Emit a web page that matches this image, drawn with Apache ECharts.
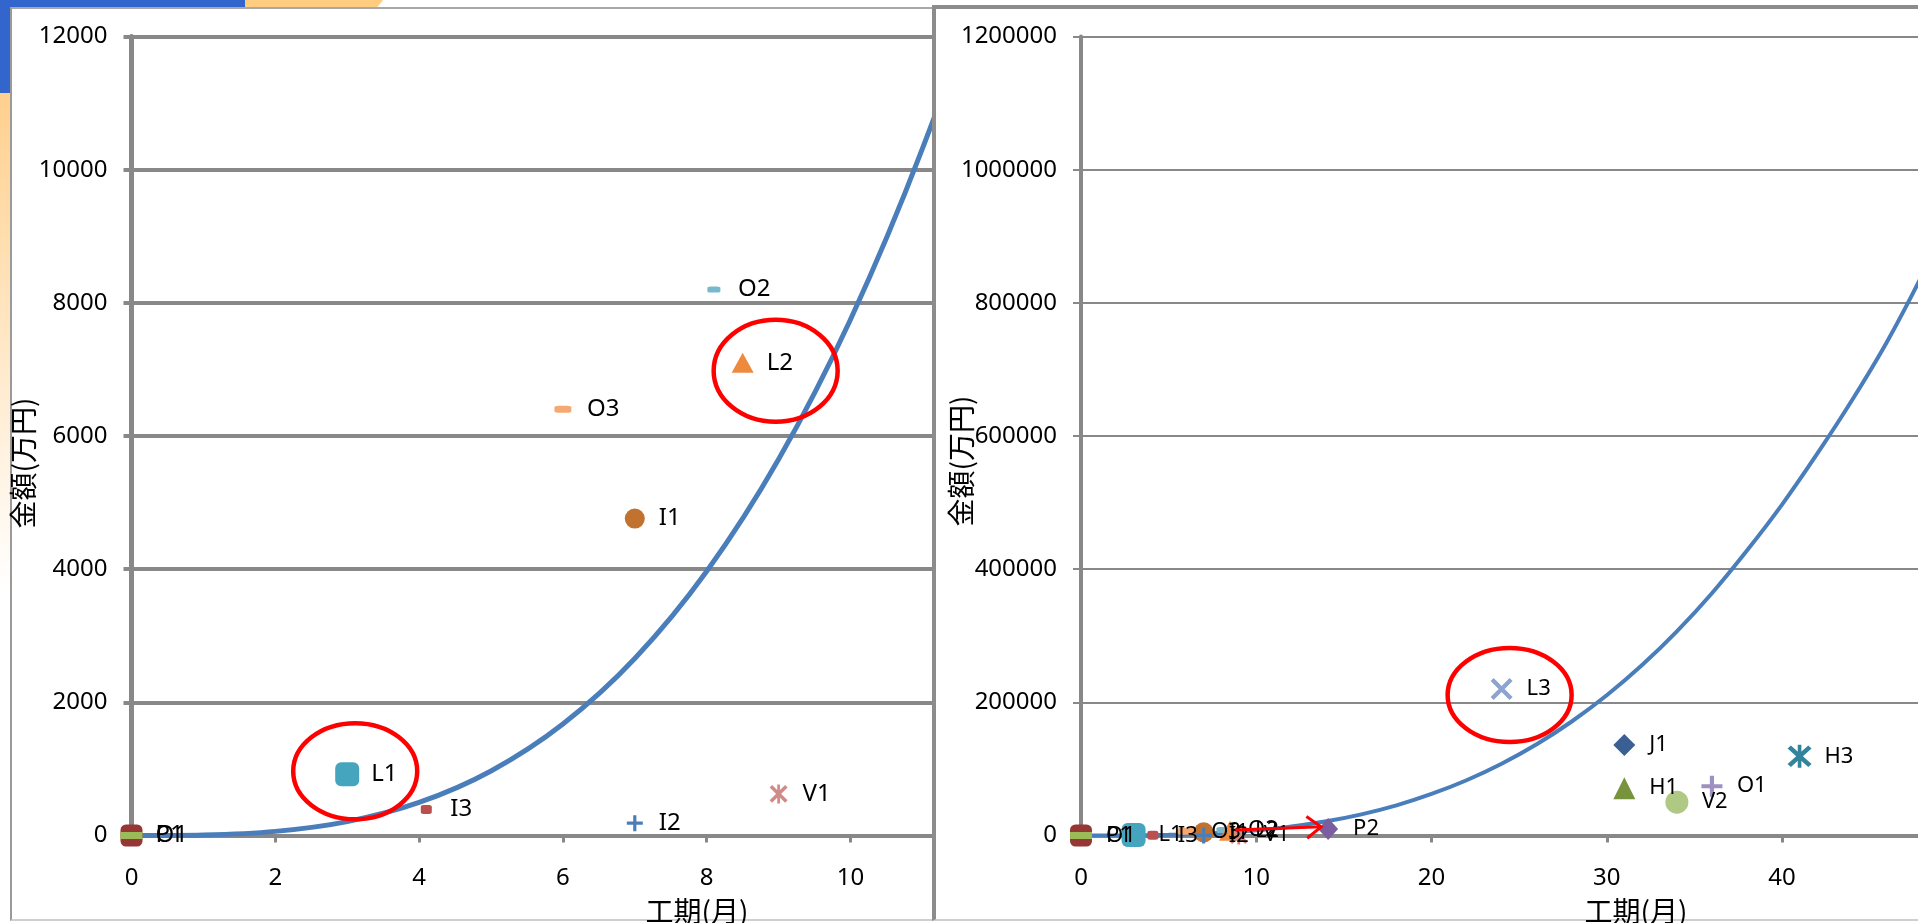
<!DOCTYPE html>
<html>
<head>
<meta charset="utf-8">
<script src="https://cdn.jsdelivr.net/npm/echarts@6/dist/echarts.min.js"></script>
<style>
html,body{margin:0;padding:0;width:1918px;height:923px;overflow:hidden;background:#fff;}
.abs{position:absolute;}
#decoBlueTop{left:0;top:0;width:245px;height:7px;background:#3366CC;}
#decoOrangeTop{left:245px;top:0;width:138px;height:7px;background:#FFCC80;clip-path:polygon(0 0,100% 0,96% 100%,0 100%);}
#decoBlueSide{left:0;top:0;width:10px;height:93px;background:#3366CC;}
#decoOrangeSide{left:0;top:93px;width:10px;height:830px;background:linear-gradient(#FFD08E,#FFFFFF 60%);}
#leftFrame{left:10px;top:7px;width:1000px;height:914px;border-left:2px solid #9a9a9a;border-top:2px solid #a8a8a8;border-bottom:2px solid #cfcfcf;box-sizing:border-box;background:#fff;}
#leftChart{left:0;top:0;width:1000px;height:923px;}
#rightFrame{left:932px;top:5px;width:1100px;height:916px;border-left:4px solid #8c8c8c;border-top:4px solid #8c8c8c;border-bottom:2px solid #cfcfcf;box-sizing:border-box;background:#fff;}
#rightChart{left:936px;top:0;width:1100px;height:923px;}
</style>
</head>
<body>
<div id="decoBlueTop" class="abs"></div>
<div id="decoOrangeTop" class="abs"></div>
<div id="decoBlueSide" class="abs"></div>
<div id="decoOrangeSide" class="abs"></div>
<div id="leftFrame" class="abs"></div>
<div id="leftChart" class="abs"></div>
<div id="rightFrame" class="abs"></div>
<div id="rightChart" class="abs"></div>
<script>
// ---------------- DATA ----------------
const pointLabels  = ['P1','O1','L1','I3','O3','I1','I2','O2','L2','V1','P2','L3','J1','H1','V2','O1','H3'];
const pointMonths  = [0, 0, 3, 4.1, 6, 7, 7, 8.1, 8.5, 9, 14.1, 24, 31, 31, 34, 36, 41];
const pointAmounts = [0, 0, 920, 390, 6400, 4760, 185, 8200, 7100, 625, 9800, 220000, 136000, 71000, 50000, 74000, 119000];

// trend curve
const trendMonths  = [0, 1, 2, 3, 4, 5, 6, 7, 8, 9, 10, 11, 12, 14, 16, 18, 20, 22, 24, 26, 28, 30, 32, 34, 36, 38, 40, 42, 44, 46, 48, 50];
const trendAmounts = [0, 8, 62, 209, 496, 969, 1674, 2658, 3968, 5650, 7750, 10315, 13392, 21300, 31800, 45300, 62400, 83000, 107800, 137000, 171200, 210600, 255600, 306600, 363900, 428000, 497000, 573000, 654000, 742000, 842000, 952000];

const leftXTicks  = [0, 12, 2];        // min, max, interval
const leftYTicks  = [0, 12000, 2000];
const rightXTicks = [0, 50, 10];
const rightYTicks = [0, 1200000, 200000];

const circledLeft  = ['L1', 'L2'];
const circledRight = ['L3'];
const arrowFrom = [8.8, 8300];
const arrowTo   = [13.7, 13000];

const yTitle = '金額(万円)';
const xTitle = '工期(月)';

// ---------------- STYLES ----------------
const PLUS  = 'path://M4,0H6V4H10V6H6V10H4V6H0V4H4Z';
const CROSS = 'path://M0.36,1.64L1.64,0.36L9.64,8.36L8.36,9.64Z M8.36,0.36L9.64,1.64L1.64,9.64L0.36,8.36Z';
const STAR  = CROSS + ' M4.3,0L5.7,0L5.7,10L4.3,10Z';
const markerLooks = [
  {symbol:'roundRect', size:[22,22], color:'#953735'},
  {symbol:'rect',      size:[22,7],  color:'#9BBB59'},
  {symbol:'roundRect', size:[24,24], color:'#46A5BE'},
  {symbol:'roundRect', size:[11,9],  color:'#B9504D'},
  {symbol:'roundRect', size:[17,7],  color:'#F5A872'},
  {symbol:'circle',    size:20,      color:'#C1722F'},
  {symbol:PLUS,        size:16,      color:'#4A7EBB'},
  {symbol:'roundRect', size:[13,6],  color:'#78B8CE'},
  {symbol:'triangle',  size:[22,20], color:'#EE8A3E'},
  {symbol:STAR,        size:[18,19], color:'#D08A88'},
  {symbol:'diamond',   size:[20,22], color:'#7B5EA0'},
  {symbol:CROSS,       size:22,      color:'#8DA4D0'},
  {symbol:'diamond',   size:22,      color:'#3A6093'},
  {symbol:'triangle',  size:22,      color:'#77933C'},
  {symbol:'circle',    size:23,      color:'#AFC985'},
  {symbol:PLUS,        size:21,      color:'#A08FC2'},
  {symbol:STAR,        size:[24,23], color:'#31849B'}
];
const ellipseLooks = {L1:{dx:8,dy:-3,rx:62,ry:48}, L2:{dx:33,dy:8,rx:62,ry:51}, L3:{dx:8,dy:6,rx:62,ry:47}};
const FONT = 'Noto Sans';
const CJK = 'Noto Sans CJK JP';

function buildOption(cfg){
  const series = [];
  series.push({
    type:'line', data: trendMonths.map((m,i)=>[m, trendAmounts[i]]),
    smooth:0.3, symbol:'none', showSymbol:false, clip:true, silent:true, z:1,
    lineStyle:{color:'#4A7EBB', width:cfg.curveWidth}
  });
  pointLabels.forEach((lab,i)=>{
    const look = markerLooks[i];
    const w = Array.isArray(look.size) ? look.size[0] : look.size;
    series.push({
      type:'scatter', name: lab + '_' + i,
      data:[[pointMonths[i], pointAmounts[i]]],
      symbol: look.symbol, symbolSize: look.size, clip:true, z:2,
      itemStyle:{color: look.color, opacity:1},
      label:{show:true, position:'right', distance: cfg.labelOffset - w/2, formatter: lab,
             color:'#000', fontSize: cfg.labelSize, fontFamily: FONT},
      emphasis:{disabled:true}
    });
  });
  series.push({
    type:'custom', z:4, clip:false, silent:true,
    data: cfg.circled.map(n=>{const i = pointLabels.indexOf(n); return [pointMonths[i], pointAmounts[i]];}),
    renderItem:(params, api)=>{
      const p = api.coord([api.value(0), api.value(1)]);
      const e = ellipseLooks[cfg.circled[params.dataIndex]];
      return {type:'ellipse', shape:{cx:p[0]+e.dx, cy:p[1]+e.dy, rx:e.rx, ry:e.ry},
              style:{fill:'none', stroke:'#FF0000', lineWidth:4.5}};
    }
  });
  if (cfg.arrow){
    series.push({
      type:'custom', z:3, clip:false, silent:true,
      data:[[arrowFrom[0], arrowFrom[1], arrowTo[0], arrowTo[1]]],
      renderItem:(params, api)=>{
        const a = api.coord([api.value(0), api.value(1)]);
        const b = api.coord([api.value(2), api.value(3)]);
        const ang = Math.atan2(b[1]-a[1], b[0]-a[0]);
        const L = 18, sp = 0.65;
        const h1 = [b[0]-L*Math.cos(ang-sp), b[1]-L*Math.sin(ang-sp)];
        const h2 = [b[0]-L*Math.cos(ang+sp), b[1]-L*Math.sin(ang+sp)];
        return {type:'group', children:[
          {type:'line', shape:{x1:a[0],y1:a[1],x2:b[0],y2:b[1]}, style:{stroke:'#FF0000', lineWidth:3}},
          {type:'polyline', shape:{points:[h1,b,h2]}, style:{stroke:'#FF0000', lineWidth:3, fill:'none'}}
        ]};
      }
    });
  }
  const axisColor = '#888888';
  return {
    animation:false,
    backgroundColor:'transparent',
    textStyle:{fontFamily: FONT},
    grid:{left:cfg.grid[0], top:cfg.grid[1], width:cfg.grid[2], height:cfg.grid[3], containLabel:false, outerBoundsMode:'none'},
    xAxis:{
      type:'value', min:cfg.xTicks[0], max:cfg.xTicks[1], interval:cfg.xTicks[2],
      axisLine:{show:true, onZero:true, lineStyle:{color:axisColor, width:4}},
      axisTick:{show:true, inside:false, length:7, lineStyle:{color:axisColor, width:3}},
      axisLabel:{show:true, margin:31, color:'#000', fontSize:24, fontFamily:FONT, formatter:v=>String(v)},
      splitLine:{show:false}
    },
    yAxis:{
      type:'value', min:cfg.yTicks[0], max:cfg.yTicks[1], interval:cfg.yTicks[2],
      axisLine:{show:true, lineStyle:{color:axisColor, width:cfg.yAxisWidth}},
      axisTick:{show:true, inside:false, length:8, lineStyle:{color:axisColor, width:cfg.gridWidth}},
      axisLabel:{show:true, margin:24, color:'#000', fontSize:24, fontFamily:FONT, formatter:v=>String(v)},
      splitLine:{show:true, lineStyle:{color:axisColor, width:cfg.gridWidth}}
    },
    graphic:[
      {type:'text', x:cfg.yTitlePos[0], y:cfg.yTitlePos[1], rotation:Math.PI/2,
       style:{text:yTitle, fontSize:28, fontFamily:CJK, fill:'#000', align:'center', verticalAlign:'middle'}},
      {type:'text', x:cfg.xTitlePos[0], y:cfg.xTitlePos[1],
       style:{text:xTitle, fontSize:28, fontFamily:CJK, fill:'#000', align:'center', verticalAlign:'middle'}}
    ],
    series
  };
}

const leftChart = echarts.init(document.getElementById('leftChart'), null, {renderer:'canvas'});
leftChart.setOption(buildOption({
  grid:[131.5, 36.5, 862.8, 799], xTicks:leftXTicks, yTicks:leftYTicks,
  gridWidth:4, yAxisWidth:5, curveWidth:5, labelSize:24, labelOffset:24,
  circled:circledLeft, arrow:false, yTitlePos:[23, 463], xTitlePos:[697, 911]
}));

const rightChart = echarts.init(document.getElementById('rightChart'), null, {renderer:'canvas'});
rightChart.setOption(buildOption({
  grid:[145, 36.5, 876.3, 799], xTicks:rightXTicks, yTicks:rightYTicks,
  gridWidth:2, yAxisWidth:4, curveWidth:4, labelSize:22, labelOffset:25,
  circled:circledRight, arrow:true, yTitlePos:[25, 461], xTitlePos:[700, 911]
}));
</script>
</body>
</html>
